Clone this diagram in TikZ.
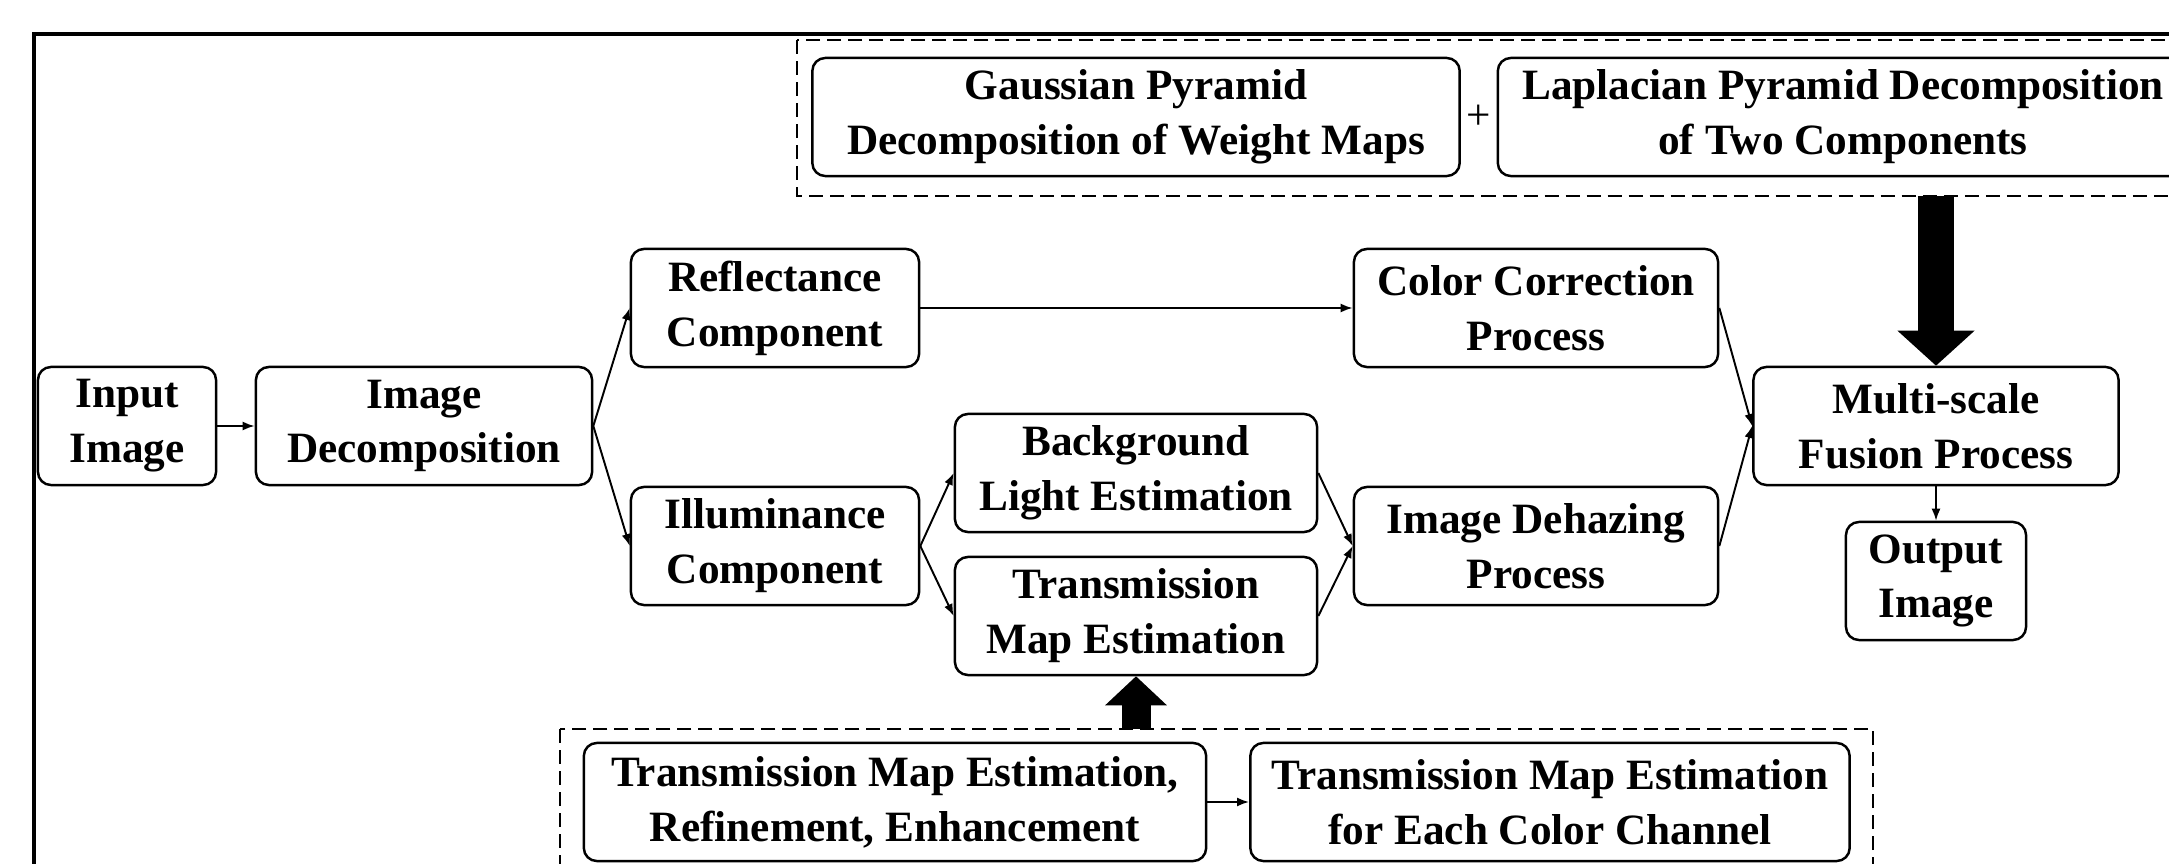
\documentclass[tikz,border=0pt]{standalone}
\usepackage{fontspec}
\setmainfont{Liberation Serif}
\usetikzlibrary{arrows.meta}

\begin{document}
\begin{tikzpicture}[x=0.01cm,y=-0.01cm,
  box/.style={draw=black,line width=0.7pt,rounded corners=1.3mm,align=center,inner sep=0pt,
    minimum height=1.18cm,font=\fontsize{12.3}{15.6}\selectfont\bfseries},
  flow/.style={draw=black,line width=0.55pt,-{Latex[length=1.2mm,width=0.9mm]}},
  group/.style={draw=black,line width=0.6pt,dash pattern=on 1.4mm off 0.7mm}]

\useasboundingbox (0,0) rectangle (2169,864);

% frame
\path[draw=black,line width=0.9pt] (34,900) -- (34,34) -- (2250,34);

% main chain
\node[box,minimum width=1.78cm] (input) at (127,426) {Input\\Image};
\node[box,minimum width=3.36cm] (decomp) at (424,426) {Image\\Decomposition};
\node[box,minimum width=2.88cm] (refl) at (775,308) {Reflectance\\Component};
\node[box,minimum width=2.88cm] (illum) at (775,546) {Illuminance\\Component};
\node[box,minimum width=3.62cm] (bgl) at (1136,473) {Background\\Light Estimation};
\node[box,minimum width=3.62cm] (tme) at (1136,616) {Transmission\\Map Estimation};
\node[box,minimum width=3.64cm] (color) at (1536,308) {Color Correction\\Process};
\node[box,minimum width=3.64cm] (dehaze) at (1536,546) {Image Dehazing\\Process};
\node[box,minimum width=3.65cm] (fusion) at (1936,426) {Multi-scale\\Fusion Process};
\node[box,minimum width=1.80cm] (output) at (1936,581) {Output\\Image};

\path[flow] (input) -- (decomp);
\path[flow] (decomp.east) -- (refl.west);
\path[flow] (decomp.east) -- (illum.west);
\path[flow] (refl) -- (color);
\path[flow] (illum.east) -- (bgl.west);
\path[flow] (illum.east) -- (tme.west);
\path[flow] (bgl.east) -- (dehaze.west);
\path[flow] (tme.east) -- (dehaze.west);
\path[flow] (color.east) -- (fusion.west);
\path[flow] (dehaze.east) -- (fusion.west);
\path[flow] (fusion) -- (output);

% pyramids
\draw[group] (797,40) rectangle (2260,196);
\node[box,minimum width=6.47cm] (gauss) at (1136,117) {Gaussian Pyramid\\Decomposition of Weight Maps};
\node[font=\fontsize{12.3}{15.6}\selectfont] (plus) at (1479,117) {+};
\node[box,minimum width=6.90cm] (lap) at (1843,117) {Laplacian Pyramid Decomposition\\of Two Components};
\coordinate (pyr) at (1936,196);
\path[draw=black,line width=3.6mm,-{Triangle[length=3.5mm,width=7.5mm]}] (pyr) -- (fusion.north);

% transmission map
\draw[group] (560,729) rectangle (1873,900);
\node[box,minimum width=6.22cm] (tmeref) at (895,802) {Transmission Map Estimation,\\Refinement, Enhancement};
\node[box,minimum width=5.99cm] (tmecc) at (1550,802) {Transmission Map Estimation\\for Each Color Channel};
\path[flow] (tmeref) -- (tmecc);
\coordinate (trans) at (1136,729);
\path[draw=black,line width=2.9mm,-{Triangle[length=2.9mm,width=6mm]}] (trans) -- (tme.south);

\end{tikzpicture}
\end{document}
